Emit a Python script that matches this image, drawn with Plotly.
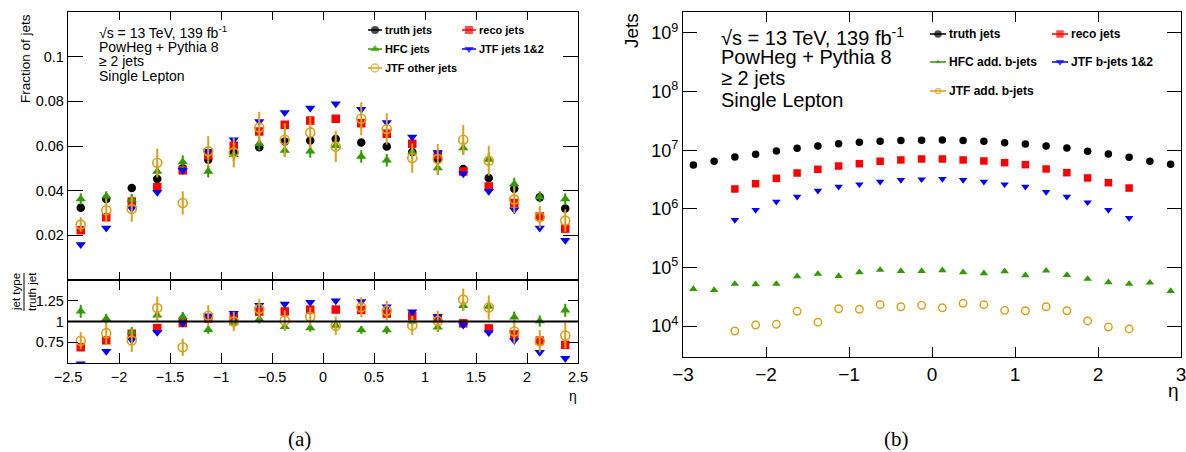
import plotly.graph_objects as go

W, H = 1186, 452

# ---------------- (a) jet fractions, |eta| < 2.5 ----------------
eta_a = [-2.375, -2.125, -1.875, -1.625, -1.375, -1.125, -0.875, -0.625, -0.375, -0.125,
         0.125, 0.375, 0.625, 0.875, 1.125, 1.375, 1.625, 1.875, 2.125, 2.375]

frac_truth = [0.0323, 0.0363, 0.0412, 0.0452, 0.0500, 0.0539, 0.0571, 0.0594, 0.0620, 0.0625,
              0.0631, 0.0616, 0.0598, 0.0573, 0.0539, 0.0497, 0.0457, 0.0409, 0.0370, 0.0320]
frac_reco = [0.0223, 0.0281, 0.0351, 0.0416, 0.0491, 0.0559, 0.0601, 0.0665, 0.0695, 0.0714,
             0.0722, 0.0702, 0.0655, 0.0610, 0.0561, 0.0486, 0.0419, 0.0345, 0.0285, 0.0230]
frac_hfc = [0.0363, 0.0375, 0.0360, 0.0486, 0.0528, 0.0486, 0.0561, 0.0610, 0.0580, 0.0576,
            0.0601, 0.0553, 0.0536, 0.0573, 0.0501, 0.0591, 0.0539, 0.0430, 0.0372, 0.0363]
frac_jtf12 = [0.0159, 0.0233, 0.0320, 0.0393, 0.0491, 0.0576, 0.0628, 0.0710, 0.0750, 0.0770,
              0.0789, 0.0765, 0.0705, 0.0640, 0.0571, 0.0476, 0.0397, 0.0315, 0.0233, 0.0178]
frac_jtf_other = [0.0248, 0.0312, 0.0318, 0.0525, 0.0345, 0.0576, 0.0571, 0.0683, 0.0628, 0.0661,
                  0.0598, 0.0722, 0.0676, 0.0546, 0.0542, 0.0628, 0.0534, 0.0360, 0.0282, 0.0266]

err_hfc = [0.0025, 0.0022, 0.0025, 0.0028, 0.0030, 0.0027, 0.0030, 0.0030, 0.0028, 0.0028,
           0.0030, 0.0028, 0.0028, 0.0028, 0.0030, 0.0030, 0.0030, 0.0028, 0.0025, 0.0025]
err_jtf_other = [0.0033, 0.0052, 0.0057, 0.0063, 0.0052, 0.0068, 0.0067, 0.0070, 0.0074, 0.0070,
                 0.0070, 0.0074, 0.0070, 0.0066, 0.0067, 0.0067, 0.0067, 0.0060, 0.0050, 0.0050]

# ---------------- (b) jet counts, |eta| < 3 ----------------
eta_b_full = [-2.875, -2.625, -2.375, -2.125, -1.875, -1.625, -1.375, -1.125, -0.875, -0.625, -0.375, -0.125,
              0.125, 0.375, 0.625, 0.875, 1.125, 1.375, 1.625, 1.875, 2.125, 2.375, 2.625, 2.875]
eta_b_central = eta_a

n_truth = [5.58e6, 6.47e6, 7.66e6, 8.51e6, 9.69e6, 1.08e7, 1.18e7, 1.29e7, 1.36e7, 1.42e7, 1.47e7, 1.48e7,
           1.49e7, 1.46e7, 1.42e7, 1.34e7, 1.28e7, 1.18e7, 1.09e7, 9.58e6, 8.61e6, 7.56e6, 6.47e6, 5.75e6]
n_hfc_add_b = [4.27e4, 4.11e4, 5.21e4, 5.14e4, 5.21e4, 7.05e4, 7.72e4, 7.13e4, 8.24e4, 9.03e4, 8.68e4, 8.68e4,
               8.93e4, 8.24e4, 7.93e4, 8.58e4, 7.33e4, 8.79e4, 7.41e4, 6.34e4, 5.56e4, 5.21e4, 5.49e4, 3.95e4]
n_reco = [2.18e6, 2.68e6, 3.31e6, 4.08e6, 4.72e6, 5.37e6, 5.89e6, 6.47e6, 6.81e6, 7.08e6,
          7.08e6, 6.81e6, 6.55e6, 6.12e6, 5.66e6, 4.78e6, 4.13e6, 3.36e6, 2.79e6, 2.26e6]
n_jtf_b12 = [6.44e5, 9.55e5, 1.32e6, 1.61e6, 2.04e6, 2.38e6, 2.62e6, 2.90e6, 3.10e6, 3.18e6,
             3.23e6, 3.10e6, 2.90e6, 2.62e6, 2.38e6, 1.94e6, 1.61e6, 1.29e6, 9.55e5, 6.97e5]
n_jtf_add_b = [8.22e3, 1.04e4, 1.07e4, 1.78e4, 1.16e4, 1.97e4, 1.93e4, 2.31e4, 2.13e4, 2.25e4,
               2.05e4, 2.44e4, 2.31e4, 1.85e4, 1.82e4, 2.13e4, 1.82e4, 1.22e4, 9.6e3, 8.9e3]

x_ticks_a = [-2.5, -2, -1.5, -1, -0.5, 0, 0.5, 1, 1.5, 2, 2.5]
x_ticks_b = [-3, -2, -1, 0, 1, 2, 3]
y_ticks_frac = [0.02, 0.04, 0.06, 0.08, 0.1]
y_ticks_ratio = [0.75, 1, 1.25]
y_ticks_jets = [1e4, 1e5, 1e6, 1e7, 1e8, 1e9]

# ---------------- styling ----------------
BLACK, RED, GREEN, BLUE, ORANGE = "#000000", "#ff0000", "#339900", "#0000ff", "#d9a01c"
SANS = "Liberation Sans, Arial, sans-serif"
SERIF = "Liberation Serif, DejaVu Serif, serif"


def px_x(p):
    return p / W


def px_y(p):
    return 1 - p / H


def fmt(v):
    return ("%g" % v).replace("-", "\u2212")


def steps(lo, hi, step):
    n = int(round((hi - lo) / step))
    return [round(lo + i * step, 6) for i in range(n + 1)]


def ratio(num):
    return [n / t for n, t in zip(num, frac_truth)]


def ratio_err(err):
    return [e / t for e, t in zip(err, frac_truth)]


fig = go.Figure()

series_a = [
    ("truth jets", frac_truth, None, "circle", BLACK, 8.5),
    ("reco jets", frac_reco, None, "square", RED, 8.5),
    ("HFC jets", frac_hfc, err_hfc, "triangle-up", GREEN, 9),
    ("JTF jets 1&2", frac_jtf12, None, "triangle-down", BLUE, 9),
    ("JTF other jets", frac_jtf_other, err_jtf_other, "circle-open", ORANGE, 9),
]

for name, vals, err, sym, col, size in series_a:
    mk = dict(symbol=sym, color=col, size=size,
              line=dict(width=1.6 if sym.endswith("open") else 0, color=col))
    ey = dict(type="data", array=err, visible=True, color=col, thickness=2, width=0) if err else dict(visible=False)
    fig.add_trace(go.Scatter(x=eta_a, y=vals, mode="markers", marker=mk, error_y=ey,
                             xaxis="x", yaxis="y", showlegend=False, name=name))
    if name == "truth jets":
        continue
    rey = dict(type="data", array=ratio_err(err), visible=True, color=col, thickness=2, width=0) if err else dict(visible=False)
    fig.add_trace(go.Scatter(x=eta_a, y=ratio(vals), mode="markers", marker=mk, error_y=rey,
                             xaxis="x2", yaxis="y2", showlegend=False, name=name))

series_b = [
    ("truth jets", eta_b_full, n_truth, "circle", BLACK, 7.5),
    ("reco jets", eta_b_central, n_reco, "square", RED, 7.5),
    ("HFC add. b-jets", eta_b_full, n_hfc_add_b, "triangle-up", GREEN, 7.5),
    ("JTF b-jets 1&2", eta_b_central, n_jtf_b12, "triangle-down", BLUE, 7.5),
    ("JTF add. b-jets", eta_b_central, n_jtf_add_b, "circle-open", ORANGE, 7.5),
]
for name, xs, vals, sym, col, size in series_b:
    mk = dict(symbol=sym, color=col, size=size,
              line=dict(width=1.4 if sym.endswith("open") else 0, color=col))
    fig.add_trace(go.Scatter(x=xs, y=vals, mode="markers", marker=mk,
                             xaxis="x3", yaxis="y3", showlegend=False, name=name))


# ---------------- legends (overlay axis in pixel units) ----------------
def legend_entry(xm, ym, label, sym, col, size, seg, fsize):
    mk = dict(symbol=sym, color=col, size=[0, size, 0],
              line=dict(width=1.4 if sym.endswith("open") else 0, color=col))
    fig.add_trace(go.Scatter(x=[xm - seg, xm, xm + seg], y=[ym, ym, ym], mode="lines+markers",
                             line=dict(color=col, width=1.5), marker=mk,
                             xaxis="x4", yaxis="y4", showlegend=False, hoverinfo="skip"))
    fig.add_annotation(x=px_x(xm + seg + 1), y=px_y(ym), xref="paper", yref="paper",
                       text="<b>%s</b>" % label, showarrow=False, xanchor="left", yanchor="middle",
                       font=dict(family=SANS, size=fsize, color="black"))


leg_a = [(375, 30), (469, 30), (375, 49), (469, 49), (375, 68)]
for (xm, ym), (name, _, _, sym, col, size) in zip(leg_a, series_a):
    legend_entry(xm, ym, name, sym, col, 8, 7, 11)

leg_b = [(938, 34), (1060, 34), (938, 62), (1060, 62), (938, 91)]
leg_b_size = [7.5, 7.5, 5, 7.5, 5]
for (xm, ym), (name, _, _, sym, col, size), s in zip(leg_b, series_b, leg_b_size):
    legend_entry(xm, ym, name, sym, col, s, 8, 12)


def label(x, y, text, size, angle=0, family=SANS, xanchor="center"):
    fig.add_annotation(x=px_x(x), y=px_y(y), xref="paper", yref="paper", text=text,
                       textangle=angle, showarrow=False, xanchor=xanchor, yanchor="middle",
                       font=dict(family=family, size=size, color="black"))


# ---------------- info text ----------------
info_lines = ["\u221as = 13 TeV, 139 fb<sup>-1</sup>", "PowHeg + Pythia 8", "\u2265 2 jets", "Single Lepton"]
for i, t in enumerate(info_lines):
    label(97, 32 + 14.7 * i, t, 14, xanchor="left")
    label(719, 36 + 21.2 * i, t, 20, xanchor="left")

# axis titles
label(25, 59, "Fraction of jets", 13.5, -90)
label(631, 31, "Jets", 19, -90)
label(16, 292, "jet type", 11.5, -90)
label(32, 292, "truth jet", 11.5, -90)
fig.add_shape(type="line", xref="paper", yref="paper", x0=px_x(24), x1=px_x(24),
              y0=px_y(273), y1=px_y(311), line=dict(color="black", width=1))
label(573, 396, "\u03b7", 14)
label(1173, 390, "\u03b7", 19)

# captions
label(299, 439, "(a)", 21, family=SERIF)
label(897, 439, "(b)", 21, family=SERIF)

# unity line in the ratio panel
fig.add_shape(type="line", xref="x2", yref="y2", x0=-2.5, x1=2.5, y0=1, y1=1,
              line=dict(color="black", width=2))

frame = dict(showline=True, linecolor="black", linewidth=1.3, mirror="allticks", ticks="inside",
             showgrid=False, zeroline=False, tickcolor="black", tickwidth=1,
             ticklabeloverflow="allow")


def minor_axis(overlay, anchor, domain, rng, vals, length, axtype="linear"):
    return dict(overlaying=overlay, anchor=anchor, domain=domain, range=rng, type=axtype,
                tickmode="array", tickvals=vals, ticks="inside", ticklen=length,
                tickcolor="black", tickwidth=1, showticklabels=False, showgrid=False,
                zeroline=False, showline=False, mirror="allticks", fixedrange=True)


XA = [px_x(68), px_x(578)]
XB = [px_x(683), px_x(1181)]
YA_UP = [px_y(280), px_y(12)]
YA_LO = [px_y(363), px_y(280)]
YB = [px_y(357), px_y(12)]
RNG_JETS = [3.471, 9.358]

minor_eta_a = steps(-2.5, 2.5, 0.1)
minor_eta_b = steps(-3, 3, 0.2)
minor_frac = steps(0, 0.12, 0.004)
minor_ratio = steps(0.5, 1.5, 0.05)
minor_jets = [m * 10 ** e for e in range(3, 10) for m in range(2, 10)]

fig.update_layout(
    width=W, height=H, margin=dict(l=0, r=0, t=0, b=0, autoexpand=False),
    paper_bgcolor="white", plot_bgcolor="rgba(0,0,0,0)", showlegend=False,
    font=dict(family=SANS, color="black"),
    xaxis=dict(frame, domain=XA, range=[-2.5, 2.5], anchor="y",
               tickmode="array", tickvals=x_ticks_a, showticklabels=False, ticklen=8),
    yaxis=dict(frame, domain=YA_UP, range=[0, 0.12], anchor="x",
               tickmode="array", tickvals=y_ticks_frac, ticktext=[fmt(v) for v in y_ticks_frac],
               ticklen=15, tickfont=dict(family=SANS, size=14.5)),
    xaxis2=dict(frame, domain=XA, range=[-2.5, 2.5], anchor="y2",
                tickmode="array", tickvals=x_ticks_a, ticktext=[fmt(v) for v in x_ticks_a], ticklen=10,
                tickfont=dict(family=SANS, size=14.5)),
    yaxis2=dict(frame, domain=YA_LO, range=[0.5, 1.5], anchor="x2",
                tickmode="array", tickvals=y_ticks_ratio, ticktext=[fmt(v) for v in y_ticks_ratio],
                ticklen=10, tickfont=dict(family=SANS, size=14.5)),
    xaxis3=dict(frame, domain=XB, range=[-3, 3], anchor="y3",
                tickmode="array", tickvals=x_ticks_b, ticktext=[fmt(v) for v in x_ticks_b], ticklen=10,
                tickfont=dict(family=SANS, size=19)),
    yaxis3=dict(frame, domain=YB, type="log", range=RNG_JETS, anchor="x3",
                tickmode="array", tickvals=y_ticks_jets,
                ticktext=["10<sup>%d</sup>" % e for e in range(4, 10)],
                ticklen=14, tickfont=dict(family=SANS, size=18)),
    xaxis4=dict(domain=[0, 1], range=[0, W], visible=False, anchor="y4", fixedrange=True),
    yaxis4=dict(domain=[0, 1], range=[H, 0], visible=False, anchor="x4", fixedrange=True),
    # minor tick marks
    xaxis5=minor_axis("x", "y", XA, [-2.5, 2.5], minor_eta_a, 4),
    yaxis5=minor_axis("y", "x", YA_UP, [0, 0.12], minor_frac, 7),
    xaxis6=minor_axis("x2", "y2", XA, [-2.5, 2.5], minor_eta_a, 5),
    yaxis6=minor_axis("y2", "x2", YA_LO, [0.5, 1.5], minor_ratio, 5),
    xaxis7=minor_axis("x3", "y3", XB, [-3, 3], minor_eta_b, 5),
    yaxis7=minor_axis("y3", "x3", YB, RNG_JETS, minor_jets, 7, "log"),
)

fig.write_html("out.html")
